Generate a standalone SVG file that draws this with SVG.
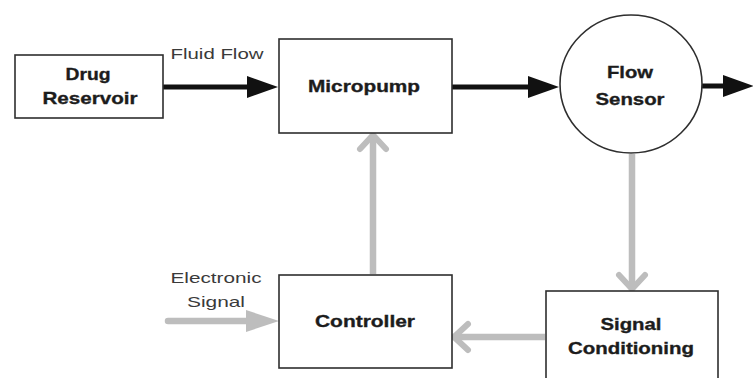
<svg xmlns="http://www.w3.org/2000/svg" width="753" height="378" viewBox="0 0 753 378">
  <style>
    .box { fill: #ffffff; stroke: #2e2e2e; stroke-width: 1.6; }
    .lbl { font-family: "Liberation Sans", Arial, sans-serif; font-weight: bold; font-size: 17px; fill: #1c1c1c; stroke: #1c1c1c; stroke-width: 0.35; text-anchor: middle; }
    .note { font-family: "Liberation Sans", Arial, sans-serif; font-size: 15px; fill: #3a3a3a; text-anchor: middle; }
    .flow { fill: none; stroke: #111111; stroke-width: 5; stroke-linecap: round; }
    .sig { fill: none; stroke: #bdbdbd; stroke-width: 6.5; }
  </style>
  <defs>
    <marker id="headBlack" markerUnits="userSpaceOnUse" viewBox="0 0 31 22" refX="0" refY="11" markerWidth="31" markerHeight="22" orient="auto" overflow="visible">
      <path d="M0,0 L31,11 L0,22 Z" fill="#111111"/>
    </marker>
    <marker id="headGray" markerUnits="userSpaceOnUse" viewBox="0 0 33 22" refX="0" refY="11" markerWidth="33" markerHeight="22" orient="auto" overflow="visible">
      <path d="M0,0 L33,11 L0,22 Z" fill="#bdbdbd"/>
    </marker>
    <marker id="chevGray" markerUnits="userSpaceOnUse" viewBox="-16 -15 18 30" refX="0" refY="0" markerWidth="18" markerHeight="30" orient="auto" overflow="visible">
      <path d="M-14,-13 L0,0 L-14,13" fill="none" stroke="#bdbdbd" stroke-width="6" stroke-linejoin="round" stroke-linecap="round"/>
    </marker>
  </defs>

  <!-- connectors -->
  <g id="connectors">
    <line class="flow" x1="164" y1="87" x2="247" y2="87" marker-end="url(#headBlack)"/>
    <line class="flow" x1="453" y1="87" x2="528" y2="87" marker-end="url(#headBlack)"/>
    <line class="flow" x1="703" y1="86" x2="723" y2="86" marker-end="url(#headBlack)"/>
    <line class="sig" x1="373" y1="274" x2="373" y2="135" marker-end="url(#chevGray)"/>
    <line class="sig" x1="632" y1="154" x2="632" y2="289" marker-end="url(#chevGray)"/>
    <line class="sig" x1="545" y1="337" x2="454" y2="337" marker-end="url(#chevGray)"/>
    <line class="sig" x1="168" y1="321" x2="246" y2="321" stroke-linecap="round" marker-end="url(#headGray)"/>
  </g>

  <g id="drug-reservoir">
    <rect class="box" x="15" y="55" width="148" height="63"/>
    <text class="lbl" x="88" y="80" textLength="45" lengthAdjust="spacingAndGlyphs">Drug</text>
    <text class="lbl" x="90" y="104" textLength="95" lengthAdjust="spacingAndGlyphs">Reservoir</text>
  </g>

  <g id="micropump">
    <rect class="box" x="279" y="39" width="173" height="94"/>
    <text class="lbl" x="364" y="92" textLength="112" lengthAdjust="spacingAndGlyphs">Micropump</text>
  </g>

  <g id="flow-sensor">
    <ellipse class="box" cx="631" cy="84" rx="71" ry="69"/>
    <text class="lbl" x="630" y="78" textLength="46" lengthAdjust="spacingAndGlyphs">Flow</text>
    <text class="lbl" x="630" y="105" textLength="69" lengthAdjust="spacingAndGlyphs">Sensor</text>
  </g>

  <g id="controller">
    <rect class="box" x="279" y="275" width="173" height="93"/>
    <text class="lbl" x="365" y="327" textLength="100" lengthAdjust="spacingAndGlyphs">Controller</text>
  </g>

  <g id="signal-conditioning">
    <rect class="box" x="546" y="291" width="172" height="100"/>
    <text class="lbl" x="631" y="330" textLength="61" lengthAdjust="spacingAndGlyphs">Signal</text>
    <text class="lbl" x="631" y="354" textLength="126" lengthAdjust="spacingAndGlyphs">Conditioning</text>
  </g>

  <g id="labels">
    <text class="note" x="217" y="59" textLength="93" lengthAdjust="spacingAndGlyphs">Fluid Flow</text>
    <text class="note" x="216" y="283" textLength="91" lengthAdjust="spacingAndGlyphs">Electronic</text>
    <text class="note" x="216" y="307" textLength="58" lengthAdjust="spacingAndGlyphs">Signal</text>
  </g>
</svg>
